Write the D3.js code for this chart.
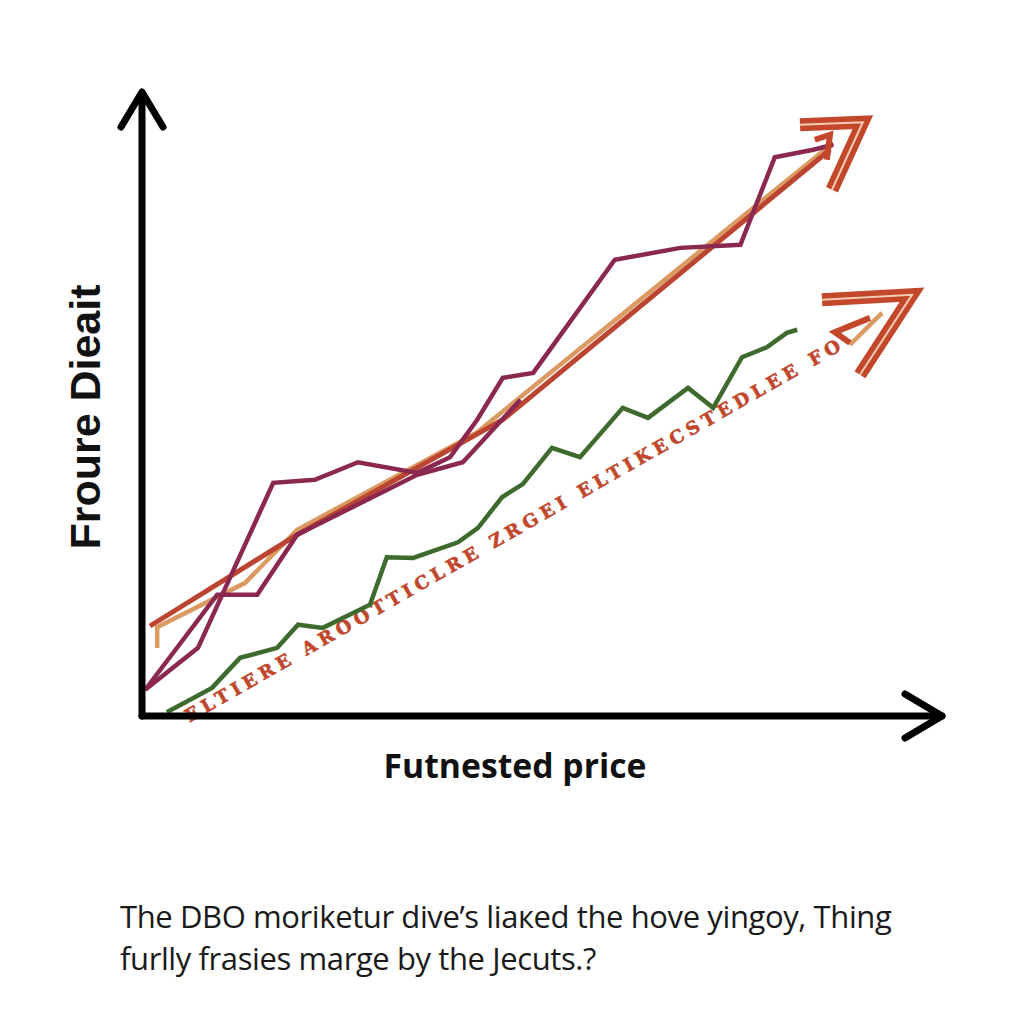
<!DOCTYPE html>
<html>
<head>
<meta charset="utf-8">
<script src="https://cdn.jsdelivr.net/npm/d3@7"></script>
<style>
  html, body { margin: 0; padding: 0; background: #ffffff; }
  svg { display: block; }
</style>
</head>
<body>
<svg id="chart" width="1024" height="1024"></svg>
<script>
// ---- Data (axis units 0..100) ----
const magentaSeries = [[0.4,4.2],[7.0,10.9],[16.4,37.3],[21.6,37.8],[27.0,40.6],[34.4,38.9],[38.5,41.4],[41.9,47.4],[45.1,54.1],[48.9,54.9],[59.1,73.0],[67.3,74.9],[74.8,75.4],[79.1,89.4],[83.9,90.6],[86.4,91.4]];
const magentaBranch = [[0.4,4.2],[9.4,19.4],[14.4,19.4],[19.4,29.0],[34.4,38.6],[40.1,40.6],[47.3,50.6]];
const orangeTrend   = [[1.9,10.9],[1.9,14.2],[12.9,21.3],[19.4,29.8],[38.5,43.0],[41.9,45.4],[86.4,91.7]];
const redTrend      = [[1.0,14.4],[19.4,29.0],[45.1,47.4],[86.0,90.6]];
const greenSeries   = [[3.1,0.6],[8.75,4.5],[12.25,9.3],[16.9,10.9],[19.5,14.6],[22.6,14.1],[28.5,17.8],[30.6,25.4],[33.9,25.3],[39.5,27.8],[42.0,30.1],[45.0,35.0],[47.6,37.1],[51.25,42.9],[54.75,41.4],[60.1,49.3],[63.25,47.7],[68.25,52.5],[71.4,49.3],[75.0,57.4],[78.1,59.0],[80.6,61.3],[81.9,61.8]];
const textTrend     = [[5.6,-0.4],[88.2,60.0]];
const textShaft     = [[88.5,59.4],[92.5,64.5]];
const upperArrow    = [[82.25,94.6],[90.1,95.0],[86.25,84.2]];
const upperNotch    = [[84.1,92.2],[86.0,93.0],[85.6,89.0]];
const lowerArrow    = [[85.0,66.6],[96.25,67.4],[89.75,54.6]];
const lowerNotch    = [[88.5,59.7],[86.6,61.4],[91.0,63.7]];
const trendLabel    = "ELTIERE AROOTTICLRE ZRGEI ELTIKECSTEDLEE FO";
const xTitle = "Futnested price";
const yTitle = "Froure Dieait";
const captionLines = ["The DBO moriketur dive\u2019s liaкed the hove yingoy,  Thing", "furlly frasies marge by the Jecuts.?"];

// ---- Layout ----
const svg = d3.select("#chart");
const x = d3.scaleLinear().domain([0, 100]).range([142, 942]);
const y = d3.scaleLinear().domain([0, 100]).range([716, 91]);
const line = d3.line().x(d => x(d[0])).y(d => y(d[1]));

const colors = {
  magenta: "#8a2850",
  orange: "#db9a62",
  red: "#bb4530",
  green: "#3e6a2e",
  arrow: "#c3482b",
  text: "#c0472c"
};

// text trend (label along a path)
svg.append("path").attr("id", "labelPath")
  .attr("d", line(textTrend)).attr("fill", "none").attr("stroke", "none");
svg.append("text")
  .attr("font-family", "DejaVu Serif")
  .attr("font-weight", "bold")
  .attr("font-size", 18)
  .attr("fill", colors.text)
  .attr("stroke", colors.text).attr("stroke-width", 0.6)
  .attr("dominant-baseline", "middle")
  .append("textPath")
  .attr("href", "#labelPath")
  .attr("textLength", 752)
  .attr("lengthAdjust", "spacing")
  .text(trendLabel);

// series lines
function drawLine(data, color, width) {
  svg.append("path").attr("d", line(data))
    .attr("fill", "none").attr("stroke", color)
    .attr("stroke-width", width)
    .attr("stroke-linejoin", "miter").attr("stroke-linecap", "butt");
}
drawLine(greenSeries, colors.green, 4.5);
drawLine(orangeTrend, colors.orange, 4.5);
drawLine(redTrend, colors.red, 5);
drawLine(magentaBranch, colors.magenta, 4.5);
drawLine(magentaSeries, colors.magenta, 4.5);
drawLine(textShaft, colors.orange, 4.5);

// stylised arrowheads
function drawArrowHead(data, notch) {
  svg.append("path").attr("d", line(data))
    .attr("fill", "none").attr("stroke", colors.arrow)
    .attr("stroke-width", 13).attr("stroke-linejoin", "miter")
    .attr("stroke-miterlimit", 10).attr("stroke-linecap", "butt");
  svg.append("path").attr("d", line(data))
    .attr("fill", "none").attr("stroke", "#f7cdb4")
    .attr("stroke-width", 2).attr("stroke-linejoin", "miter")
    .attr("stroke-miterlimit", 10);
  svg.append("path").attr("d", line(notch))
    .attr("fill", "none").attr("stroke", colors.arrow)
    .attr("stroke-width", 6).attr("stroke-linejoin", "miter");
}
drawArrowHead(upperArrow, upperNotch);
drawArrowHead(lowerArrow, lowerNotch);

// axes
const axisG = svg.append("g").attr("stroke", "#000").attr("fill", "none")
  .attr("stroke-width", 7).attr("stroke-linecap", "round").attr("stroke-linejoin", "round");
axisG.append("line").attr("x1", x(0)).attr("y1", y(0)).attr("x2", x(0)).attr("y2", y(100) + 2);
axisG.append("line").attr("x1", x(0)).attr("y1", y(0)).attr("x2", x(100)).attr("y2", y(0));
axisG.append("path").attr("d", `M${x(0) - 21},${y(100) + 36} L${x(0)},${y(100) + 1} L${x(0) + 21},${y(100) + 36}`);
axisG.append("path").attr("d", `M${x(100) - 37},${y(0) - 22} L${x(100)},${y(0)} L${x(100) - 37},${y(0) + 22}`);

// titles
svg.append("text").attr("x", 515).attr("y", 778)
  .attr("text-anchor", "middle")
  .attr("font-family", "Open Sans").attr("font-weight", 700)
  .attr("font-size", 34).attr("fill", "#111")
  .attr("textLength", 263).attr("lengthAdjust", "spacingAndGlyphs")
  .text(xTitle);
svg.append("text")
  .attr("transform", "translate(100,417) rotate(-90)")
  .attr("text-anchor", "middle")
  .attr("font-family", "Liberation Sans").attr("font-weight", 700)
  .attr("font-size", 42).attr("fill", "#111")
  .attr("textLength", 265).attr("lengthAdjust", "spacingAndGlyphs")
  .text(yTitle);

// caption
svg.append("g").selectAll("text").data(captionLines).join("text")
  .attr("x", 120).attr("y", (d, i) => 928 + i * 42)
  .attr("font-family", "Open Sans").attr("font-size", 31)
  .attr("letter-spacing", -0.4)
  .attr("fill", "#1a1a1a")
  .text(d => d);
</script>
</body>
</html>
